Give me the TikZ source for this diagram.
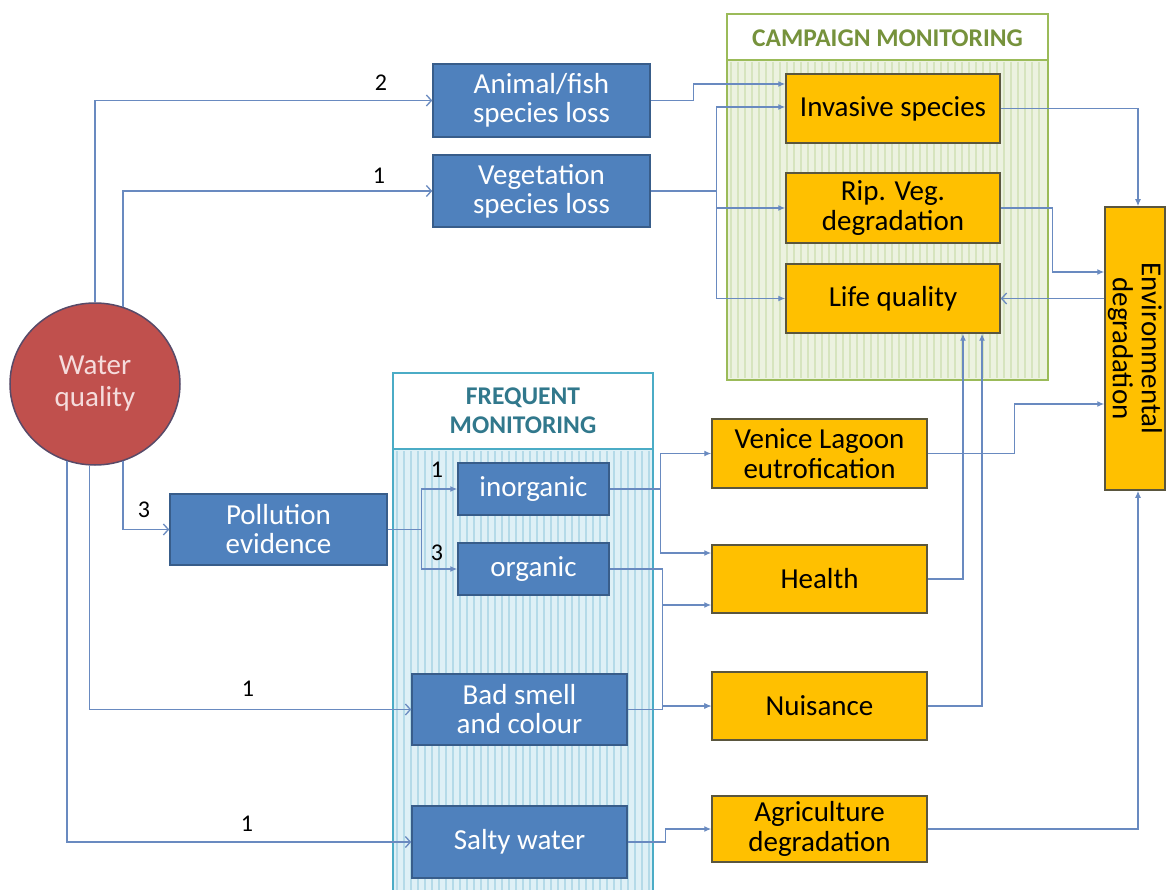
\documentclass[tikz,border=0pt]{standalone}
\usepackage{fontspec}
\setmainfont{Carlito}
\usetikzlibrary{arrows.meta,shapes.geometric}
\definecolor{lineblue}{RGB}{105,138,192}
\definecolor{bluefill}{RGB}{79,129,189}
\definecolor{blueborder}{RGB}{56,93,138}
\definecolor{orangefill}{RGB}{255,192,0}
\definecolor{orangeborder}{RGB}{90,86,62}
\definecolor{redfill}{RGB}{192,80,77}
\definecolor{redborder}{RGB}{88,74,104}
\definecolor{wqtext}{RGB}{245,220,220}
\definecolor{campbg}{RGB}{236,242,224}
\definecolor{campstripe}{RGB}{214,228,190}
\definecolor{campborder}{RGB}{155,187,89}
\definecolor{camptext}{RGB}{118,146,60}
\definecolor{freqbg}{RGB}{222,240,246}
\definecolor{freqstripe}{RGB}{180,218,232}
\definecolor{freqborder}{RGB}{75,172,198}
\definecolor{freqtext}{RGB}{49,120,140}
\begin{document}
\begin{tikzpicture}[x=1pt,y=-1pt,
  wh/.style 2 args={minimum width=#1, minimum height=#2},
  bluebox/.style={draw=blueborder, fill=bluefill, line width=1.5pt, text=white, align=center, inner sep=0pt, font=\fontsize{29}{29}\selectfont},
  orangebox/.style={draw=orangeborder, fill=orangefill, line width=1.5pt, text=black, align=center, inner sep=0pt, font=\fontsize{29}{30}\selectfont},
  conn/.style={draw=lineblue, line width=1.3pt},
  farr/.style={conn, -{Latex[length=7pt,width=6pt]}},
  oarr/.style={conn, -{Straight Barb[length=5pt,width=11pt]}},
  numlabel/.style={font=\fontsize{24}{24}\selectfont, text=black, inner sep=0pt},
  headtext/.style={font=\fontsize{25.5}{29}\selectfont\bfseries, align=center, inner sep=0pt}
]
\useasboundingbox (0,0) rectangle (1167,890);
\fill[white] (0,0) rectangle (1167,890);

% Campaign monitoring container
\fill[campbg] (727,60) rectangle (1048,380);
\foreach \x in {731,738,...,1045} \draw[campstripe, line width=2.5pt] (\x,62) -- (\x,378);
\fill[white] (727,14) rectangle (1048,60);
\draw[campborder, line width=1.5pt] (727,14) rectangle (1048,380);
\draw[campborder, line width=1.5pt] (727,60) -- (1048,60);
\node[headtext, text=camptext] (camptitle) at (887.5,38) {CAMPAIGN MONITORING};

% Frequent monitoring container
\fill[freqbg] (393,449) rectangle (653,900);
\foreach \x in {397,404,...,650} \draw[freqstripe, line width=2.5pt] (\x,451) -- (\x,900);
\fill[white] (393,373) rectangle (653,449);
\draw[freqborder, line width=2pt] (393,900) -- (393,373) -- (653,373) -- (653,900);
\draw[freqborder, line width=2pt] (393,449) -- (653,449);
\node[headtext, text=freqtext] (freqtitle) at (523,411) {FREQUENT\\MONITORING};

% Source node
\node[ellipse, draw=redborder, fill=redfill, line width=1.5pt, wh={170pt}{162pt}, text=wqtext, align=center, inner sep=0pt, font=\fontsize{29}{32}\selectfont] (wq) at (95,384) {Water\\quality};

% Blue nodes
\node[bluebox, wh={217pt}{73pt}] (animal) at (541.5,100.5) {Animal/fish\\species loss};
\node[bluebox, wh={217pt}{72pt}] (veg) at (541.5,191) {Vegetation\\species loss};
\node[bluebox, wh={217pt}{71pt}] (poll) at (278.5,529.5) {Pollution\\evidence};
\node[bluebox, wh={151pt}{52pt}] (inorg) at (533.5,489) {inorganic};
\node[bluebox, wh={151pt}{52pt}] (org) at (533.5,569) {organic};
\node[bluebox, wh={215pt}{71pt}] (smell) at (519.5,709.5) {Bad smell\\and colour};
\node[bluebox, wh={215pt}{72pt}] (salty) at (519.5,842) {Salty water};

% Orange nodes
\node[orangebox, wh={214pt}{69pt}] (invasive) at (893,108.5) {Invasive species};
\node[orangebox, wh={214pt}{70pt}] (ripveg) at (893,208) {Rip. Veg.\\degradation};
\node[orangebox, wh={214pt}{69pt}] (life) at (893,298.5) {Life quality};
\node[orangebox, wh={215pt}{69pt}] (venice) at (819.5,453.5) {Venice Lagoon\\eutrofication};
\node[orangebox, wh={215pt}{68pt}] (health) at (819.5,579) {Health};
\node[orangebox, wh={215pt}{68pt}] (nuisance) at (819.5,706) {Nuisance};
\node[orangebox, wh={215pt}{66pt}] (agri) at (819.5,829) {Agriculture\\degradation};
\node[orangebox, wh={60pt}{283pt}] (env) at (1135,348.5) {};
\node[rotate=-90, align=center, inner sep=0pt, font=\fontsize{29}{29}\selectfont] (envtext) at (env.center) {Environmental\\degradation};

% Connectors from water quality
\draw[oarr] (wq.north) |- (animal.west);
\draw[oarr] (wq.70) |- (veg.west);
\draw[oarr] (wq.-70) |- (poll.west);
\draw[oarr] (wq.-94) |- (smell.west);
\draw[oarr] (wq.-110) |- (salty.west);
\node[numlabel] (l2) at (381,83) {2};
\node[numlabel] (l1a) at (379,176) {1};
\node[numlabel] (l3a) at (144,510) {3};
\node[numlabel] (l1b) at (248,689) {1};
\node[numlabel] (l1c) at (247,824) {1};

% Top group
\draw[farr] (animal.east) -- ++(43,0) |- ([yshift=24.5pt]invasive.west);
\draw[farr] (veg.east) -- ++(66,0) |- ([yshift=1.5pt]invasive.west);
\draw[farr] (veg.east) -- ++(66,0) |- (ripveg.west);
\draw[farr] (veg.east) -- ++(66,0) |- (life.west);
\draw[farr] (invasive.east) -| ([xshift=3pt]env.north);
\draw[farr] (ripveg.east) -- ++(52,0) |- ([yshift=76.5pt]env.west);
\draw[oarr] (env.west |- life.east) -- (life.east);

% Pollution branch
\draw[farr] (poll.east) -- ++(34,0) |- (inorg.west);
\draw[farr] (poll.east) -- ++(34,0) |- (org.west);
\node[numlabel] (l1d) at (437,470) {1};
\node[numlabel] (l3b) at (437,553) {3};

\draw[farr] (inorg.east) -- ++(51,0) |- (venice.west);
\draw[farr] (inorg.east) -- ++(51,0) |- ([yshift=26pt]health.west);
\draw[farr] (org.east) -- ++(53,0) |- ([yshift=-26pt]health.west);
\draw[farr] (org.east) -- ++(53,0) |- (nuisance.west);
\draw[farr] (smell.east) -- ++(35,0) |- (nuisance.west);
\draw[farr] (salty.east) -- ++(38,0) |- (agri.west);

% Right side
\draw[farr] (venice.east) -- ++(87,0) |- ([yshift=-55.5pt]env.west);
\draw[farr] (health.east) -| ([xshift=70pt]life.south);
\draw[farr] (nuisance.east) -| ([xshift=89pt]life.south);
\draw[farr] (agri.east) -| ([xshift=3pt]env.south);
\end{tikzpicture}
\end{document}
